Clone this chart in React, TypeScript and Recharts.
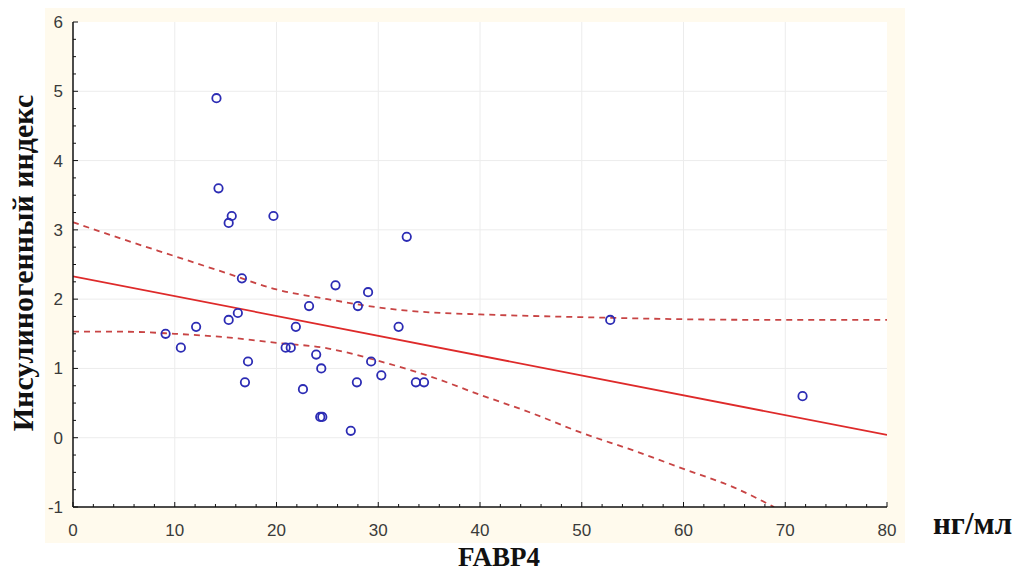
import React from 'react';
import {
  ComposedChart,
  Line,
  Scatter,
  XAxis,
  YAxis,
  CartesianGrid,
  ReferenceLine,
} from 'recharts';

// FABP4 (нг/мл) vs инсулиногенный индекс
const fabp4 = [
  14.1, 14.3, 15.6, 15.3, 19.7, 16.6, 25.8, 29.0, 23.2, 28.0, 32.8, 16.2,
  15.3, 12.1, 21.9, 32.0, 9.1, 10.6, 20.9, 21.4, 23.9, 17.2, 29.3, 24.4,
  30.3, 16.9, 27.9, 33.7, 34.5, 22.6, 24.3, 24.5, 27.3, 52.8, 71.7,
];
const insIndex = [
  4.9, 3.6, 3.2, 3.1, 3.2, 2.3, 2.2, 2.1, 1.9, 1.9, 2.9, 1.8,
  1.7, 1.6, 1.6, 1.6, 1.5, 1.3, 1.3, 1.3, 1.2, 1.1, 1.1, 1.0,
  0.9, 0.8, 0.8, 0.8, 0.8, 0.7, 0.3, 0.3, 0.1, 1.7, 0.6,
];

// regression line and 95% band
const fitX = [0, 80];
const fitY = [2.33, 0.04];
const upperX = [0, 5, 10, 15, 20, 25, 30, 35, 40, 50, 60, 70, 80];
const upperY = [3.11, 2.86, 2.62, 2.38, 2.14, 2.0, 1.88, 1.81, 1.78, 1.74, 1.71, 1.7, 1.7];
const lowerX = [0, 5, 10, 15, 20, 25, 30, 35, 40, 45, 50, 55, 60, 65, 68.9];
const lowerY = [1.53, 1.53, 1.5, 1.45, 1.37, 1.29, 1.11, 0.89, 0.62, 0.36, 0.07, -0.18, -0.45, -0.72, -1.0];

const xMajor = [0, 10, 20, 30, 40, 50, 60, 70, 80];
const yMajor = [-1, 0, 1, 2, 3, 4, 5, 6];
const xTicks = Array.from({ length: 41 }, (_, i) => i * 2);
const yTicks = Array.from({ length: 29 }, (_, i) => -1 + i * 0.25);

const zip = (xs: number[], ys: number[]) => xs.map((x, i) => ({ x, y: ys[i] }));
const points = zip(fabp4, insIndex);
const fit = zip(fitX, fitY);
const upper = zip(upperX, upperY);
const lower = zip(lowerX, lowerY);

const isMajor = (v: number, majors: number[]) => majors.some((m) => Math.abs(m - v) < 1e-6);
const tickFont = { fontFamily: 'Liberation Sans, Arial, sans-serif', fontSize: 17, fill: '#3a3a3a' };
const serifBold = { fontFamily: 'Liberation Serif, Times New Roman, serif', fontWeight: 700, fill: '#111' };

const BottomTick = (props: any) => {
  const { x, y, payload } = props;
  const major = isMajor(payload.value, xMajor);
  return (
    <g>
      <line x1={x} x2={x} y1={y} y2={y - (major ? 5 : 3)} stroke="#111" strokeWidth={1} />
      {major && (
        <text x={x} y={y + 29} textAnchor="middle" {...tickFont}>
          {payload.value}
        </text>
      )}
    </g>
  );
};

const TopTick = (props: any) => {
  const { x, y, payload } = props;
  const major = isMajor(payload.value, xMajor);
  return <line x1={x} x2={x} y1={y} y2={y + (major ? 5 : 3)} stroke="#111" strokeWidth={1} />;
};

const LeftTick = (props: any) => {
  const { x, y, payload } = props;
  const major = isMajor(payload.value, yMajor);
  return (
    <g>
      <line x1={x} x2={x + (major ? 5 : 3)} y1={y} y2={y} stroke="#111" strokeWidth={1} />
      {major && (
        <text x={x - 10} y={y + 6} textAnchor="end" {...tickFont}>
          {payload.value}
        </text>
      )}
    </g>
  );
};

const RightTick = (props: any) => {
  const { x, y, payload } = props;
  const major = isMajor(payload.value, yMajor);
  return <line x1={x} x2={x - (major ? 5 : 3)} y1={y} y2={y} stroke="#111" strokeWidth={1} />;
};

const Ring = (props: any) => (
  <circle cx={props.cx} cy={props.cy} r={4.2} fill="none" stroke="#2c2cb4" strokeWidth={1.8} />
);

const App: React.FC = () => {
  return (
    <div style={{ position: 'relative', width: 1017, height: 571, background: '#fff' }}>
      <style>{'body{margin:0}'}</style>
      <div
        style={{ position: 'absolute', left: 45, top: 8, width: 860, height: 535, background: '#fffaed' }}
      />
      <div style={{ position: 'absolute', left: 0, top: 0 }}>
        <ComposedChart
          width={1017}
          height={571}
          margin={{ top: 22, right: 130, bottom: 24, left: 33 }}
        >
          <CartesianGrid fill="#ffffff" fillOpacity={1} horizontal={false} vertical={false} />
          {xMajor.slice(1, -1).map((v) => (
            <ReferenceLine key={'gx' + v} x={v} stroke="#ececec" strokeWidth={1} />
          ))}
          {yMajor.slice(1, -1).map((v) => (
            <ReferenceLine key={'gy' + v} y={v} stroke="#ececec" strokeWidth={1} />
          ))}
          <XAxis
            dataKey="x"
            type="number"
            domain={[0, 80]}
            ticks={xTicks}
            interval={0}
            allowDataOverflow
            height={40}
            tickSize={0}
            tickMargin={0}
            tickLine={false}
            axisLine={{ stroke: '#111', strokeWidth: 1.5 }}
            tick={<BottomTick />}
            label={{
              content: (p: any) => {
                const vb = p.viewBox || { x: 73, y: 507 };
                return (
                  <g>
                    <text x={499} y={vb.y + 59} textAnchor="middle" fontSize={27} {...serifBold}>
                      FABP4
                    </text>
                    <text x={933} y={vb.y + 27} textAnchor="start" fontSize={31} {...serifBold}>
                      нг/мл
                    </text>
                  </g>
                );
              },
            }}
          />
          <XAxis
            xAxisId="top"
            orientation="top"
            dataKey="x"
            type="number"
            domain={[0, 80]}
            ticks={xTicks}
            interval={0}
            allowDataOverflow
            height={0}
            tickSize={0}
            tickMargin={0}
            tickLine={false}
            axisLine={{ stroke: '#111', strokeWidth: 1.5 }}
            tick={<TopTick />}
          />
          <YAxis
            type="number"
            domain={[-1, 6]}
            ticks={yTicks}
            interval={0}
            allowDataOverflow
            width={40}
            tickSize={0}
            tickMargin={0}
            tickLine={false}
            axisLine={{ stroke: '#111', strokeWidth: 1.5 }}
            tick={<LeftTick />}
            label={{
              content: () => {
                const cx = 33;
                const cy = 263;
                return (
                  <text
                    x={cx}
                    y={cy}
                    transform={`rotate(-90, ${cx}, ${cy})`}
                    textAnchor="middle"
                    fontSize={30}
                    {...serifBold}
                  >
                    Инсулиногенный индекс
                  </text>
                );
              },
            }}
          />
          <YAxis
            yAxisId="right"
            orientation="right"
            type="number"
            domain={[-1, 6]}
            ticks={yTicks}
            interval={0}
            allowDataOverflow
            width={0}
            tickSize={0}
            tickMargin={0}
            tickLine={false}
            axisLine={{ stroke: '#111', strokeWidth: 1.5 }}
            tick={<RightTick />}
          />
          <Line
            data={upper}
            dataKey="y"
            type="monotone"
            stroke="#c84444"
            strokeWidth={1.8}
            strokeDasharray="6 5"
            dot={false}
            activeDot={false}
            isAnimationActive={false}
          />
          <Line
            data={lower}
            dataKey="y"
            type="monotone"
            stroke="#c84444"
            strokeWidth={1.8}
            strokeDasharray="6 5"
            dot={false}
            activeDot={false}
            isAnimationActive={false}
          />
          <Line
            data={fit}
            dataKey="y"
            type="linear"
            stroke="#de2a2a"
            strokeWidth={1.8}
            dot={false}
            activeDot={false}
            isAnimationActive={false}
          />
          <Scatter data={points} dataKey="y" shape={<Ring />} isAnimationActive={false} />
        </ComposedChart>
      </div>
    </div>
  );
};

export default App;
